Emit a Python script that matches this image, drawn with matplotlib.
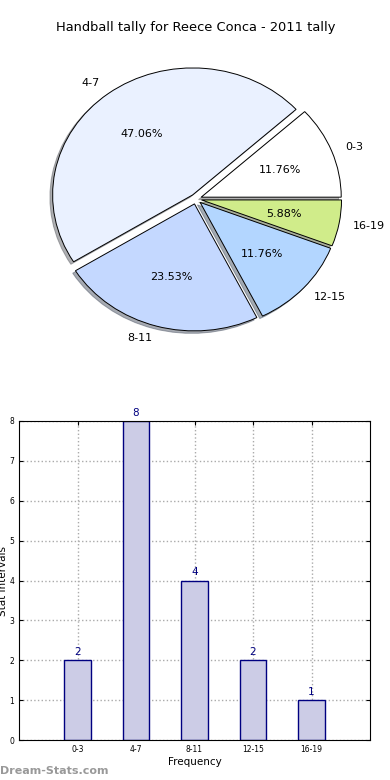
import numpy as np
import matplotlib
matplotlib.use('Agg')
import matplotlib.pyplot as plt

# Datos
categorias = ['0-3', '4-7', '8-11', '12-15', '16-19']
valores = [2, 8, 4, 2, 1]
colores_pie = ['#ffffff', '#eaf1ff', '#c4d8ff', '#b3d6ff', '#d0ec8a']
separacion = [0.04, 0.04, 0.04, 0.04, 0.04]

titulo = 'Handball tally for Reece Conca - 2011 tally'

fig = plt.figure(figsize=(3.9, 7.8), dpi=100)

# Gráfico de pastel (elíptico, como en versiones antiguas)
alto = 2 * 1.25 * 127
ax1 = fig.add_axes([21 / 390, 1 - (199 + alto / 2) / 780, 350 / 390, alto / 780])
ax1.pie(valores, labels=categorias, colors=colores_pie, explode=separacion,
        autopct='%.2f%%', shadow={'ox': -0.014, 'oy': -0.014, 'shade': 0.6},
        startangle=0,
        wedgeprops={'edgecolor': 'black', 'linewidth': 0.7},
        textprops={'fontsize': 8})
ax1.set_aspect('auto')
ax1.set_title(titulo, fontsize=9.4, pad=7)

# Gráfico de barras
ax2 = fig.add_axes([19 / 390, 40 / 780, 351 / 390, 319 / 780])
x = np.arange(len(categorias))
ax2.bar(x, valores, width=0.45, color='#ccccE6', edgecolor='#000080',
        linewidth=1, zorder=2)
for xi, v in zip(x, valores):
    ax2.text(xi, v + 0.08, str(v), ha='center', va='bottom',
             color='#000080', fontsize=7.5)
ax2.set_xlim(-1, 5)
ax2.set_ylim(0, 8)
ax2.set_xticks(x)
ax2.set_xticklabels(categorias)
ax2.tick_params(labelsize=5.5, direction='in', length=3, top=True, right=True)
ax2.grid(True, linestyle=':', color='#aaaaaa', linewidth=1, zorder=0)
ax2.set_xlabel('Frequency', fontsize=7.5, labelpad=2)
ax2.set_ylabel('Stat Intervals', fontsize=7.5, labelpad=1)

fig.text(0.0, 1 - 771 / 780, 'Dream-Stats.com', ha='left', va='center',
         color='#999999', fontsize=8, fontweight='bold')

fig.savefig('out.png', dpi=100)
